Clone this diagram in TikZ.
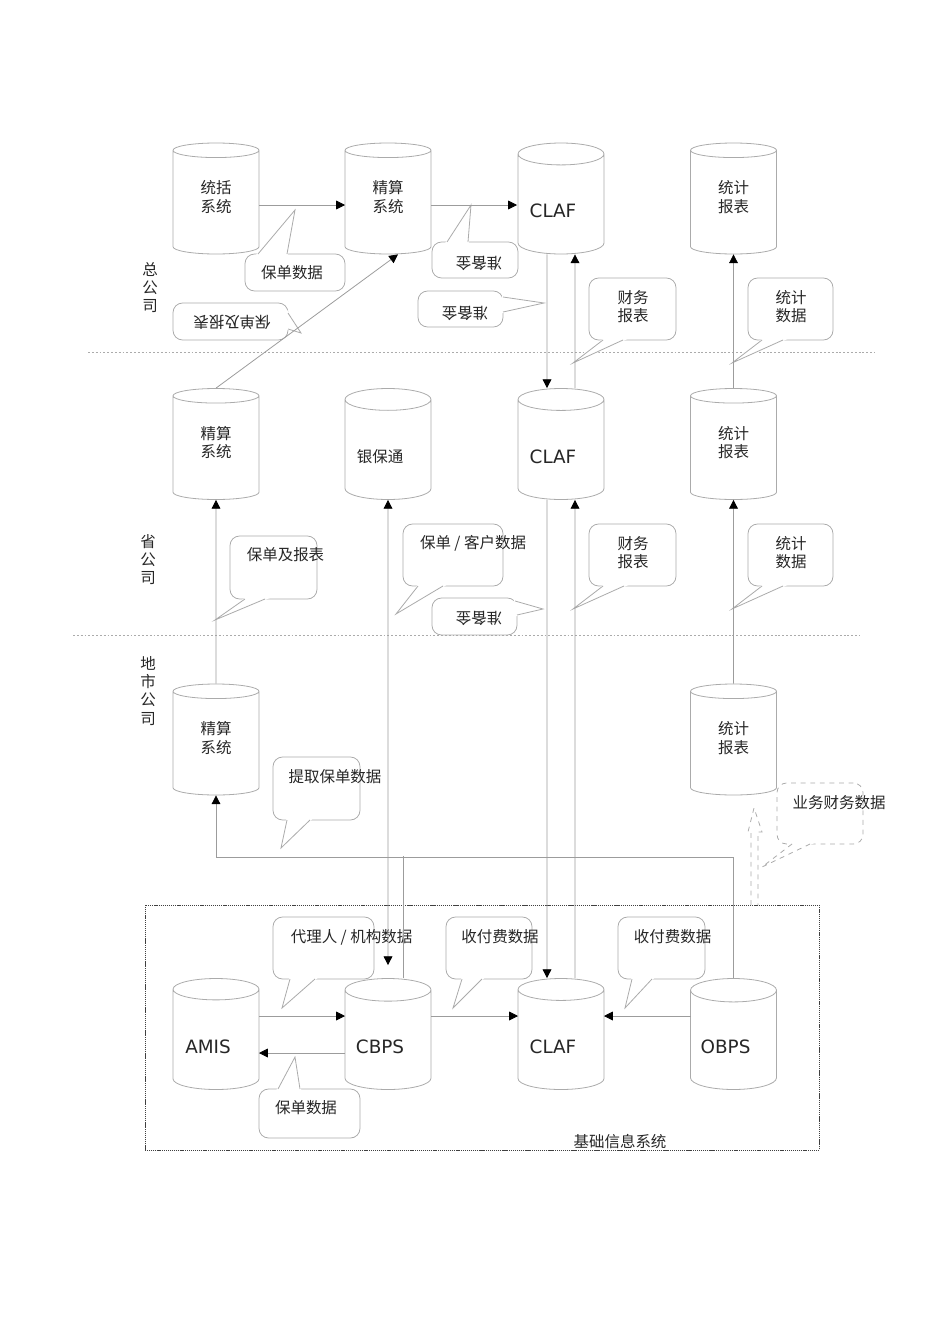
\documentclass[tikz,border=0pt]{standalone}
\usepackage{fontspec}
\setmainfont{DejaVu Sans}
\newfontfamily\cjk{Noto Sans CJK SC}
\usepackage{xcolor}
\definecolor{colLine}{HTML}{9C9C9C}
\definecolor{colBox}{HTML}{ABABAB}
\definecolor{colText}{HTML}{262626}
\usetikzlibrary{arrows.meta, positioning, shapes.geometric, calc, fit}
\def\pxu{0.626pt}
% Beschriftung im Zylinder: einzeilig tiefer und links, zweizeilig hoeher
\newcommand\oneline[1]{\raisebox{-4.4pt}[\height][\depth]{\kern-5pt#1\kern5pt}}
\newcommand\twoline[2]{\raisebox{3.4pt}[\height][\depth]{#1}\\\raisebox{3.4pt}[\height][\depth]{#2}}
\tikzset{
  db/.style={cylinder, shape border rotate=90, aspect=0.47, draw=colBox, line width=0.5pt,
    minimum width={86*\pxu}, minimum height={111*\pxu}, inner sep=0pt, anchor=shape center,
    font=\cjk\fontsize{9.7pt}{11.6pt}\selectfont, text=colText, align=center},
  dbl/.style={db, font=\fontsize{11.5pt}{13pt}\selectfont},
  bubble/.style={draw=colBox, line width=0.5pt, rounded corners=6pt, inner sep=0pt},
  txt/.style={font=\cjk\fontsize{9.7pt}{11.3pt}\selectfont, text=colText, inner sep=0pt, align=center},
  flow/.style={draw=colLine, line width=0.5pt, -{Triangle[color=black, length=5.5pt, width=5.5pt]}},
  biflow/.style={flow, {Triangle[color=black, length=5.5pt, width=5.5pt]}-{Triangle[color=black, length=5.5pt, width=5.5pt]}},
  wire/.style={draw=colLine, line width=0.5pt},
  tierline/.style={draw=colBox, line width=0.4pt, dash pattern=on 1.2pt off 1.2pt}
}
% pointer of a speech bubble
\newcommand\tail[4][]{%
  \filldraw[white, line width=1.2pt] (#2) -- (#4) -- (#3) -- cycle;
  \draw[colBox, line width=0.5pt, #1] (#2) -- (#4) -- (#3);}

\begin{document}
\begin{tikzpicture}[x=0.626pt, y=-0.626pt]
  \useasboundingbox (0,0) rectangle (950,1344);
  % Ebenen
  \draw[tierline] (88,352) -- (875,352);
  \draw[tierline] (73,635) -- (860,635);
  \node[txt] (tierHQ) at (150,288) {总\\公\\司};
  \node[txt] (tierProv) at (148,560) {省\\公\\司};
  \node[txt] (tierCity) at (148,691) {地\\市\\公\\司};
  % Basis
  \node[draw=black!75, dash pattern=on 0.7pt off 0.5pt, line width=0.5pt, inner sep=0pt, fit={(145,905) (819,1150)}] (baseBox) {};
  \node[txt] (baseLbl) at (620,1142) {基础信息系统};
  % Zentrale
  \node[db] (tkTop) at (216,198.5) {\twoline{统括}{系统}};
  \node[db] (jsTop) at (388,198.5) {\twoline{精算}{系统}};
  \node[dbl] (clafTop) at (561,198.5) {\oneline{CLAF}};
  \node[db] (tjTop) at (733.5,198.5) {\twoline{统计}{报表}};
  % Provinz
  \node[db] (jsProv) at (216,444) {\twoline{精算}{系统}};
  \node[db] (ybtProv) at (388,444) {\oneline{银保通}};
  \node[dbl] (clafProv) at (561,444) {\oneline{CLAF}};
  \node[db] (tjProv) at (733.5,444) {\twoline{统计}{报表}};
  % Stadt
  \node[db] (jsCity) at (216,739.5) {\twoline{精算}{系统}};
  \node[db] (tjCity) at (733.5,739.5) {\twoline{统计}{报表}};
  % Basissysteme
  \node[dbl] (amis) at (216,1034) {\oneline{AMIS}};
  \node[dbl] (cbps) at (388,1034) {\oneline{CBPS}};
  \node[dbl] (clafBase) at (561,1034) {\oneline{CLAF}};
  \node[dbl] (obps) at (733.5,1034) {\oneline{OBPS}};
  % Sprechblasen
  \node[bubble, fit={(245,254) (345,291)}] (bPolHQ) {};
  \tail{258,254}{287,254}{295,210}
  \node[txt] (bPolHQt) at (292,273) {保单数据};
  \node[bubble, fit={(432,242) (518,278)}] (bResA) {};
  \tail{447,242}{468,242}{471,205}
  \node[txt, rotate=180] (bResAt) at (479,263) {准备金};
  \node[bubble, fit={(418,291) (503,327)}] (bResB) {};
  \tail{503,297}{503,312}{544,303}
  \node[txt, rotate=180] (bResBt) at (465,313) {准备金};
  \node[bubble, fit={(173,303) (288,340)}] (bPolRepHQ) {};
  \tail{288,313}{288,329}{301,333}
  \node[txt, rotate=180] (bPolRepHQt) at (232,322) {保单及报表};
  \node[bubble, fit={(589,278) (676,340)}] (bFinHQ) {};
  \tail{603,340}{623,340}{573,363}
  \node[txt] (bFinHQt) at (633,306.5) {财务\\报表};
  \node[bubble, fit={(748,278) (833,340)}] (bStatHQ) {};
  \tail{762,340}{783,340}{732,363}
  \node[txt] (bStatHQt) at (791,306.5) {统计\\数据};
  \node[bubble, fit={(230,536) (317,599)}] (bPolRepProv) {};
  \tail{245,599}{265,599}{215,620}
  \node[txt] (bPolRepProvt) at (285.5,555) {保单及报表};
  \node[bubble, fit={(403,524) (503,586)}] (bPolCust) {};
  \tail{418,586}{443,586}{396,614}
  \node[txt] (bPolCustt) at (473,543) {保单 / 客户数据};
  \node[bubble, fit={(432,598) (517,635)}] (bResProv) {};
  \tail{515,601}{517,615}{543,609}
  \node[txt, rotate=180] (bResProvt) at (479,618) {准备金};
  \node[bubble, fit={(589,524) (676,586)}] (bFinProv) {};
  \tail{603,586}{624,586}{573,609}
  \node[txt] (bFinProvt) at (633,552.5) {财务\\报表};
  \node[bubble, fit={(748,524) (833,586)}] (bStatProv) {};
  \tail{762,586}{783,586}{732,609}
  \node[txt] (bStatProvt) at (791,552.5) {统计\\数据};
  \node[bubble, fit={(273,757) (360,820)}] (bExtract) {};
  \tail{287,820}{310,820}{281,848}
  \node[txt] (bExtractt) at (335,777) {提取保单数据};
  \node[bubble, dashed, fit={(777,783) (863,844)}] (bBizFin) {};
  \tail[dashed]{792,844}{810,844}{762,867}
  \node[txt] (bBizFint) at (839,803) {业务财务数据};
  \node[bubble, fit={(273,917) (374,979)}] (bAgent) {};
  \tail{290,979}{315,979}{282,1008}
  \node[txt] (bAgentt) at (351.5,937) {代理人 / 机构数据};
  \node[bubble, fit={(446,917) (532,979)}] (bFeeA) {};
  \tail{462,979}{482,979}{453,1008}
  \node[txt] (bFeeAt) at (500,937) {收付费数据};
  \node[bubble, fit={(618,917) (705,979)}] (bFeeB) {};
  \tail{632,979}{652,979}{625,1008}
  \node[txt] (bFeeBt) at (672.5,937) {收付费数据};
  \node[bubble, fit={(259,1089) (360,1138)}] (bPolBase) {};
  \tail{278,1089}{300,1089}{295,1057}
  \node[txt] (bPolBaset) at (306,1108) {保单数据};
  % Pfeile
  \draw[flow] ($(tkTop.shape center)+(43,6.5)$) -- ($(jsTop.shape center)+(-43,6.5)$);
  \draw[flow] ($(jsTop.shape center)+(43,6.5)$) -- ($(clafTop.shape center)+(-44,6.5)$);
  \draw[flow] (jsProv.north) -- ($(jsTop.south)+(10,0)$);
  \draw[flow] ($(clafTop.south)+(-14,0)$) -- ($(clafProv.north)+(-14,0)$);
  \draw[flow] ($(clafProv.north)+(14,0)$) -- ($(clafTop.south)+(14,0)$);
  \draw[flow] (tjProv.north) -- (tjTop.south);
  \draw[flow] (jsCity.north) -- (jsProv.south);
  \draw[flow] (tjCity.north) -- (tjProv.south);
  \draw[biflow] (ybtProv.south) -- ($(cbps.north)+(0,-13)$);
  \draw[flow] ($(clafProv.south)+(-14,0)$) -- ($(clafBase.north)+(-14,0)$);
  \draw[flow] ($(clafBase.north)+(14,0)$) -- ($(clafProv.south)+(14,0)$);
  \coordinate (jct) at (216,857);
  \draw[flow] (obps.north) |- (jct) -- (jsCity.south);
  \draw[wire] ($(cbps.north)+(15,0)$) -- ++(0,-122);
  \draw[flow] ($(amis.shape center)+(43,-18)$) -- ($(cbps.shape center)+(-43,-18)$);
  \draw[flow] ($(cbps.shape center)+(-43,19)$) -- ($(amis.shape center)+(43,19)$);
  \draw[flow] ($(cbps.shape center)+(43,-18)$) -- ($(clafBase.shape center)+(-43,-18)$);
  \draw[flow] ($(obps.shape center)+(-43,-18)$) -- ($(clafBase.shape center)+(43,-18)$);
  % hohler Pfeil
  \draw[colBox, dashed, line width=0.5pt] (751,905) -- (751,832) -- (748,832) -- (754,808) -- (762,832) -- (758,832) -- (758,905);
\end{tikzpicture}
\end{document}
